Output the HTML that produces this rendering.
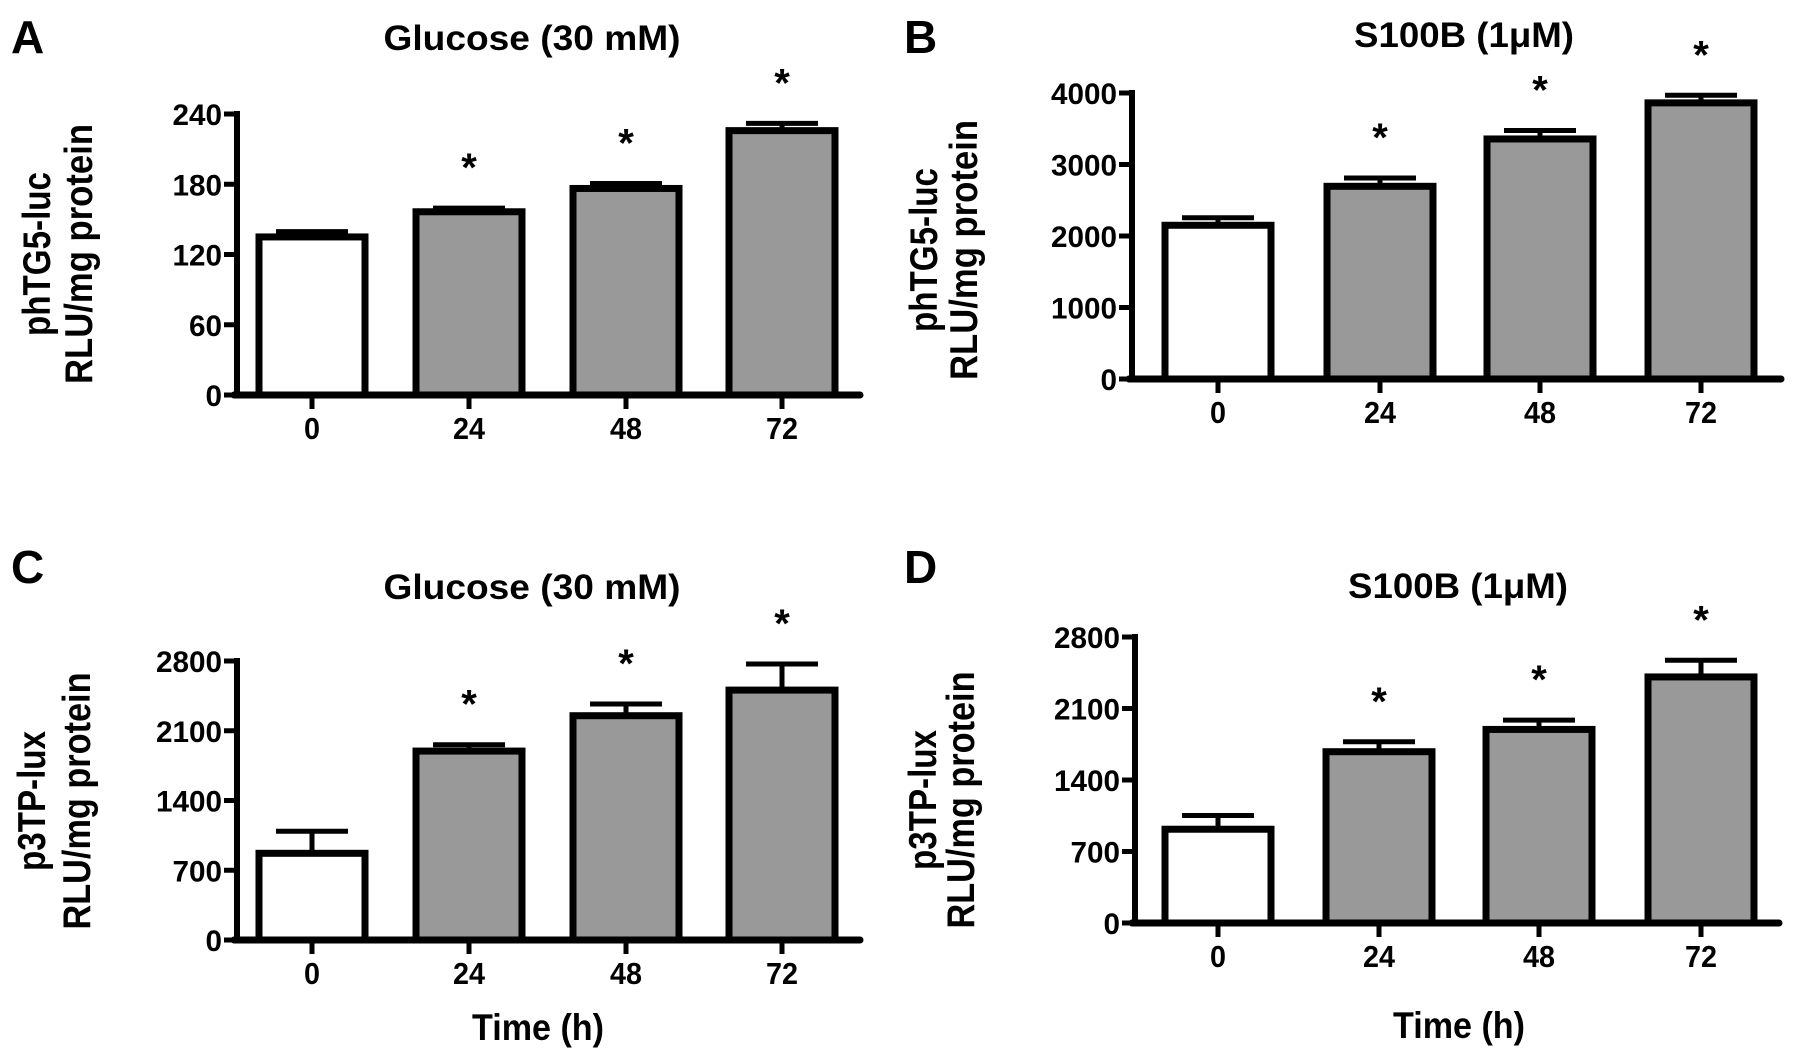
<!DOCTYPE html>
<html><head><meta charset="utf-8"><style>
html,body{margin:0;padding:0;background:#fff;}
svg{display:block;}
text{font-family:"Liberation Sans",sans-serif;font-weight:bold;fill:#000;}
</style></head><body>
<svg id="fig" width="1795" height="1055" viewBox="0 0 1795 1055" xmlns="http://www.w3.org/2000/svg"></svg>
<script>
const categories = ["0","24","48","72"];
const aMeans = [135, 156.5, 176.4, 225.8];
const aErr = [139.5, 159.6, 180.6, 232];
const aTicks = [0, 60, 120, 180, 240];
const bMeans = [2150, 2695, 3357, 3862];
const bErr = [2255, 2811, 3475, 3968];
const bTicks = [0, 1000, 2000, 3000, 4000];
const cMeans = [870, 1896, 2251, 2508];
const cErr = [1092, 1960, 2368, 2770];
const cTicks = [0, 700, 1400, 2100, 2800];
const dMeans = [918, 1677, 1895, 2409];
const dErr = [1052, 1774, 1986, 2572];
const dTicks = [0, 700, 1400, 2100, 2800];
const sig = [false, true, true, true];

const NS = "http://www.w3.org/2000/svg";
const svg = document.getElementById("fig");
function mk(tag, attrs, parent, txt){
  const e = document.createElementNS(NS, tag);
  for (const k in attrs) e.setAttribute(k, attrs[k]);
  if (txt !== undefined) e.textContent = txt;
  (parent || svg).appendChild(e);
  return e;
}

const panels = [
  {id:"a", letter:"A", lx:11, ly:53, title:"Glucose (30 mM)", tw:297, tx:532, ty:50,
   ax:237, top:114, zero:395, xend:860, cx:[312,469,626,782],
   max:240, ticks:aTicks, means:aMeans, errs:aErr,
   yl1:"phTG5-luc", yl2:"RLU/mg protein", b1:50, b2:92, yc:254, l1:164, l2:260, xtitle:false},
  {id:"b", letter:"B", lx:904, ly:53, title:"S100B (1μM)", tw:220, tx:1464, ty:47,
   ax:1132, top:93, zero:379, xend:1781, cx:[1218,1380,1540,1701],
   max:4000, ticks:bTicks, means:bMeans, errs:bErr,
   yl1:"phTG5-luc", yl2:"RLU/mg protein", b1:937, b2:977, yc:250, l1:164, l2:260, xtitle:false},
  {id:"c", letter:"C", lx:11, ly:583, title:"Glucose (30 mM)", tw:297, tx:532, ty:599,
   ax:237, top:661, zero:940, xend:860, cx:[312,469,626,782],
   max:2800, ticks:cTicks, means:cMeans, errs:cErr,
   yl1:"p3TP-lux", yl2:"RLU/mg protein", b1:45, b2:90, yc:801, l1:140, l2:257, xtitle:true, xtx:538, xty:1040},
  {id:"d", letter:"D", lx:904, ly:583, title:"S100B (1μM)", tw:220, tx:1458, ty:598,
   ax:1135, top:637, zero:923, xend:1779, cx:[1218,1379,1539,1701],
   max:2800, ticks:dTicks, means:dMeans, errs:dErr,
   yl1:"p3TP-lux", yl2:"RLU/mg protein", b1:936, b2:974, yc:800, l1:140, l2:257, xtitle:true, xtx:1459, xty:1038}
];

panels.forEach(p => {
  const g = mk("g", {});
  
  
  const y = v => p.zero - (v / p.max) * (p.zero - p.top);

  const L = mk("text", {x:p.lx, y:p.ly, "font-size":46}, g, p.letter);
  
  

  const T = mk("text", {x:p.tx, y:p.ty, "font-size":35, "text-anchor":"middle", textLength:p.tw, lengthAdjust:"spacingAndGlyphs"}, g, p.title);
  
  

  const Y1 = mk("text", {transform:`translate(${p.b1},${p.yc}) rotate(-90)`, "font-size":39, "text-anchor":"middle", textLength:p.l1, lengthAdjust:"spacingAndGlyphs"}, g, p.yl1);
  
  
  const Y2 = mk("text", {transform:`translate(${p.b2},${p.yc}) rotate(-90)`, "font-size":39, "text-anchor":"middle", textLength:p.l2, lengthAdjust:"spacingAndGlyphs"}, g, p.yl2);
  
  

  p.means.forEach((m, i) => {
    const cx = p.cx[i], w = 106;
    const e = p.errs[i];
    const st = mk("line", {x1:cx, x2:cx, y1:y(m), y2:y(e), stroke:"#000", "stroke-width":5}, g);
    
    
    const cap = mk("line", {x1:cx-36, x2:cx+36, y1:y(e), y2:y(e), stroke:"#000", "stroke-width":5}, g);
    
    
    const r = mk("rect", {x:cx-w/2, y:y(m), width:w, height:p.zero - y(m), fill: i===0 ? "#fff" : "#999", stroke:"#000", "stroke-width":7}, g);
    
    
    if (sig[i]) {
      const s = mk("text", {x:cx, y:y(e) - 27, "font-size":40, "text-anchor":"middle"}, g, "*");
      
      
    }
    const tk = mk("line", {x1:cx, x2:cx, y1:p.zero, y2:p.zero+14, stroke:"#000", "stroke-width":5}, g);
    
    
    const tl = mk("text", {x:cx, y:p.zero+44, "font-size":31, "text-anchor":"middle", textLength:categories[i].length*16, lengthAdjust:"spacingAndGlyphs"}, g, categories[i]);
    
    
  });

  const ya = mk("line", {x1:p.ax, x2:p.ax, y1:p.top-3, y2:p.zero, stroke:"#000", "stroke-width":6}, g);
  
  
  const xa = mk("line", {x1:p.ax-3, x2:p.xend, y1:p.zero, y2:p.zero, stroke:"#000", "stroke-width":7, "stroke-linecap":"round"}, g);
  
  
  p.ticks.forEach(t => {
    const tk = mk("line", {x1:p.ax-13, x2:p.ax, y1:y(t), y2:y(t), stroke:"#000", "stroke-width":5}, g);
    
    
    const s = String(t);
    const tl = mk("text", {x:p.ax-15, y:y(t)+11, "font-size":30, "text-anchor":"end", textLength:s.length*16.5, lengthAdjust:"spacingAndGlyphs"}, g, s);
    
    
  });

  if (p.xtitle) {
    const xt = mk("text", {x:p.xtx, y:p.xty, "font-size":37, "text-anchor":"middle", textLength:132, lengthAdjust:"spacingAndGlyphs"}, g, "Time (h)");
    
    
  }
});
</script>
</body></html>
